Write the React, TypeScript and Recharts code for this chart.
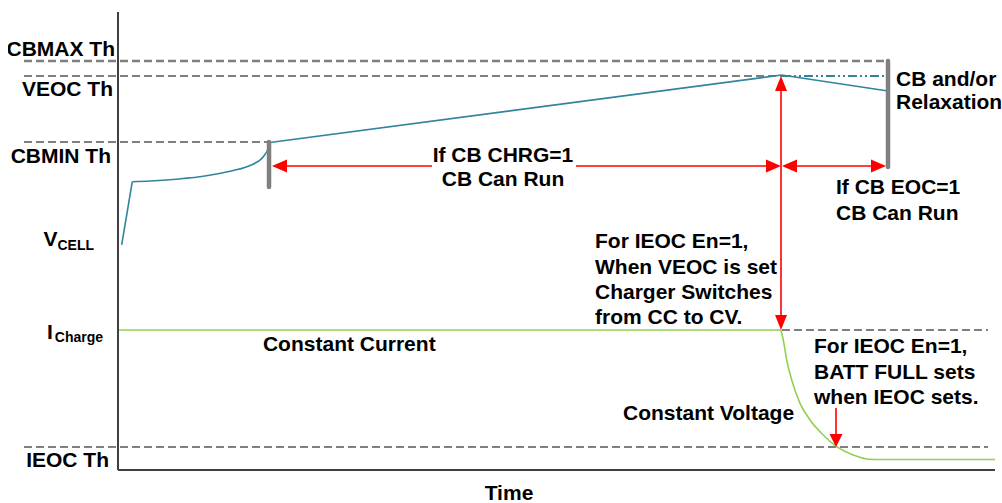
import React from 'react';
import { ComposedChart, Line, XAxis, YAxis, ReferenceLine, ReferenceDot, Label } from 'recharts';

// ---- levels (arbitrary units, 0..100 on the vertical axis) ----
const CBMAX_TH = 89.3;
const VEOC_TH = 86.03;
const CBMIN_TH = 71.62;
const VCELL_START = 49.13;
const I_CHARGE = 30.57;
const IEOC_TH = 5.02;
const CB_ARROW_LEVEL = 66.38;
const CBMIN_BAR_BOTTOM = 61.79;
const CB_END_BAR_BOTTOM = 66.16;
const FULL_ARROW_TOP = 13.54;

// ---- time marks (0..100 on the horizontal axis) ----
const T_LEFT_EDGE = -10.72;
const T_CBMIN = 17.22;
const T_CHRG_TIP = 17.56;
const T_CHRG_GAP_L = 35.8;
const T_CHRG_GAP_R = 52.22;
const T_VEOC = 75.6;
const T_VEOC_R = 75.71;
const T_CB_END = 87.8;
const T_EOC_TIP = 87.57;
const T_IEOC_HIT = 81.87;
const T_RIGHT_END = 99.2;

const yTickValues = [CBMAX_TH, VEOC_TH, CBMIN_TH, VCELL_START, I_CHARGE, IEOC_TH];
const yTickMain = ['CBMAX Th', 'VEOC Th', 'CBMIN Th', 'V', 'I', 'IEOC Th'];
const yTickSub = ['', '', '', 'CELL', 'Charge', ''];

// ---- series ----
const vcellRise = [
  { t: 0.42, v: 49.13 },
  { t: 1.63, v: 62.95 },
];
const vcellKnee = [
  { t: 1.63, v: 62.95 },
  { t: 3.65, v: 63.1 },
  { t: 5.55, v: 63.32 },
  { t: 7.41, v: 63.65 },
  { t: 9.35, v: 64.04 },
  { t: 11.25, v: 64.63 },
  { t: 13.15, v: 65.39 },
  { t: 15.05, v: 66.48 },
  { t: 16.57, v: 68.41 },
  { t: 17.14, v: 70.24 },
  { t: 17.33, v: 71.51 },
];
const vcellRamp = [
  { t: 17.33, v: 71.51 },
  { t: 75.66, v: 86.24 },
  { t: 87.8, v: 82.75 },
];
const chargeCC = [
  { t: 0, v: 30.57 },
  { t: 75.6, v: 30.57 },
];
const chargeCV = [
  { t: 75.6, v: 30.57 },
  { t: 75.86, v: 28.38 },
  { t: 76.25, v: 24.02 },
  { t: 76.82, v: 19.65 },
  { t: 77.77, v: 14.56 },
  { t: 78.91, v: 10.92 },
  { t: 80.42, v: 7.64 },
  { t: 81.95, v: 5.09 },
  { t: 83.84, v: 3.28 },
  { t: 85.75, v: 2.34 },
  { t: 86.89, v: 2.29 },
  { t: 100, v: 2.29 },
];

const annotations = [
  { id: 'chrg', t: 43.9, v: 68.78, lines: ['If CB CHRG=1', 'CB Can Run'] },
  { id: 'relax', t: 88.71, v: 85.37, lines: ['CB and/or', 'Relaxation'] },
  { id: 'eoc', t: 81.87, v: 61.79, lines: ['If CB EOC=1', 'CB Can Run'] },
  { id: 'cccv', t: 54.39, v: 50.0, lines: ['For IEOC En=1,', 'When VEOC is set', 'Charger Switches', 'from CC to CV.'] },
  { id: 'cc', t: 16.53, v: 27.51, lines: ['Constant Current'] },
  { id: 'full', t: 79.36, v: 27.07, lines: ['For IEOC En=1,', 'BATT FULL sets', 'when IEOC sets.'] },
  { id: 'cv', t: 57.58, v: 12.45, lines: ['Constant Voltage'] },
];

// ---- styles ----
const FONT = "'Liberation Sans', Arial, Helvetica, sans-serif";
const TEAL = '#31849B';
const GREEN = '#92D050';
const GRAY = '#7F7F7F';
const RED = '#FF0000';
const AXIS = '#404040';

function makeArrow(opts: { start?: boolean; end?: boolean; len: number; wid: number }) {
  return (p: any) => {
    const { x1, y1, x2, y2 } = p;
    const dx = x2 - x1;
    const dy = y2 - y1;
    const L = Math.hypot(dx, dy) || 1;
    const ux = dx / L;
    const uy = dy / L;
    const nx = -uy;
    const ny = ux;
    let sx = x1, sy = y1, ex = x2, ey = y2;
    const head = (tx: number, ty: number, dxu: number, dyu: number) => {
      const bx = tx - dxu * opts.len;
      const by = ty - dyu * opts.len;
      const w = opts.wid / 2;
      return `${tx},${ty} ${bx + nx * w},${by + ny * w} ${bx - nx * w},${by - ny * w}`;
    };
    const heads: string[] = [];
    if (opts.end) {
      ex = x2 - ux * (opts.len - 1);
      ey = y2 - uy * (opts.len - 1);
      heads.push(head(x2, y2, ux, uy));
    }
    if (opts.start) {
      sx = x1 + ux * (opts.len - 1);
      sy = y1 + uy * (opts.len - 1);
      heads.push(head(x1, y1, -ux, -uy));
    }
    return (
      <g>
        <line x1={sx} y1={sy} x2={ex} y2={ey} stroke={RED} strokeWidth={1.6} />
        {heads.map((pts, i) => (
          <polygon key={i} points={pts} fill={RED} />
        ))}
      </g>
    );
  };
}

const barShape = (p: any) => (
  <line x1={p.x1} y1={p.y1} x2={p.x2} y2={p.y2} stroke={GRAY} strokeWidth={4.5} strokeLinecap="round" />
);

const tickDy = [-12.5, 13, 13.5, -6.5, 2, 13];
const tickDx = [0, -2, -4, -21, -12, -6];

function YTick(props: any) {
  const { x, y, payload } = props;
  const i = yTickValues.findIndex((val) => Math.abs(val - payload.value) < 1e-6);
  if (i < 0) return null;
  const sub = yTickSub[i];
  return (
    <text
      x={x + tickDx[i]}
      y={y + tickDy[i]}
      dy="0.35em"
      textAnchor="end"
      fontFamily={FONT}
      fontWeight={700}
      fontSize={21}
      fill="#000"
    >
      <tspan>{yTickMain[i]}</tspan>
      {sub ? (
        <tspan fontSize={14} dx={i === 4 ? 2 : 0} dy={i === 4 ? 3 : 4}>
          {sub}
        </tspan>
      ) : null}
    </text>
  );
}

const lineGap: Record<string, number> = { chrg: 23.5, relax: 23, eoc: 26 };

function AnnotationText({ cx, cy, item }: { cx: number; cy: number; item: (typeof annotations)[number] }) {
  if (cx == null || cy == null) return null;
  const anchor = item.id === 'chrg' ? 'middle' : 'start';
  const gap = lineGap[item.id] ?? 25.3;
  return (
    <g>
      {item.lines.map((s, i) => (
        <text
          key={i}
          x={cx}
          y={cy + i * gap}
          dy="0.35em"
          textAnchor={anchor}
          fontFamily={FONT}
          fontWeight={700}
          fontSize={21}
          fill="#000"
        >
          {s}
        </text>
      ))}
    </g>
  );
}

const TimeLabel = (p: any) => {
  const vb = p.viewBox || { x: 110, y: 462 };
  return (
    <text
      x={vb.x + 391}
      y={vb.y + 23}
      dy="0.35em"
      textAnchor="middle"
      fontFamily={FONT}
      fontWeight={700}
      fontSize={21}
      fill="#000"
    >
      Time
    </text>
  );
};

export default function App() {
  return (
    <div style={{ position: 'absolute', left: 8, top: 8, width: 994, height: 495 }}>
      <ComposedChart width={994} height={495} margin={{ top: 4, right: 7, bottom: 3, left: 0 }} style={{ overflow: 'visible' }}>
        <XAxis
          type="number"
          dataKey="t"
          domain={[0, 100]}
          tick={false}
          tickLine={false}
          axisLine={{ stroke: AXIS, strokeWidth: 2 }}
          height={30}
        >
          <Label content={TimeLabel} />
        </XAxis>
        <YAxis
          type="number"
          dataKey="v"
          domain={[0, 100]}
          ticks={yTickValues}
          interval={0}
          tick={YTick}
          tickLine={false}
          tickSize={0}
          tickMargin={3}
          axisLine={{ stroke: AXIS, strokeWidth: 2 }}
          width={110}
        />

        {/* dashed thresholds */}
        <ReferenceLine segment={[{ x: T_LEFT_EDGE, y: CBMAX_TH }, { x: T_CB_END, y: CBMAX_TH }]} ifOverflow="visible" stroke={GRAY} strokeWidth={2.5} strokeDasharray="8 4" />
        <ReferenceLine segment={[{ x: T_LEFT_EDGE, y: VEOC_TH }, { x: T_VEOC_R, y: VEOC_TH }]} ifOverflow="visible" stroke={GRAY} strokeWidth={2.2} strokeDasharray="8 4" />
        <ReferenceLine segment={[{ x: T_LEFT_EDGE, y: CBMIN_TH }, { x: T_CBMIN, y: CBMIN_TH }]} ifOverflow="visible" stroke={GRAY} strokeWidth={2.2} strokeDasharray="8 4" />
        <ReferenceLine segment={[{ x: T_VEOC_R, y: I_CHARGE }, { x: T_RIGHT_END, y: I_CHARGE }]} ifOverflow="visible" stroke={GRAY} strokeWidth={2.2} strokeDasharray="8 4" />
        <ReferenceLine segment={[{ x: T_LEFT_EDGE, y: IEOC_TH }, { x: T_RIGHT_END, y: IEOC_TH }]} ifOverflow="visible" stroke={GRAY} strokeWidth={2.2} strokeDasharray="8 4" />
        <ReferenceLine segment={[{ x: T_VEOC_R, y: VEOC_TH }, { x: T_CB_END, y: VEOC_TH }]} ifOverflow="visible" stroke={TEAL} strokeWidth={2} strokeDasharray="9 3 2 3 2 3" />

        {/* cell voltage */}
        <Line data={vcellRise} dataKey="v" type="linear" stroke={TEAL} strokeWidth={1.6} dot={false} activeDot={false} isAnimationActive={false} />
        <Line data={vcellKnee} dataKey="v" type="monotone" stroke={TEAL} strokeWidth={1.6} dot={false} activeDot={false} isAnimationActive={false} />
        <Line data={vcellRamp} dataKey="v" type="linear" stroke={TEAL} strokeWidth={1.6} dot={false} activeDot={false} isAnimationActive={false} />

        {/* charge current */}
        <Line data={chargeCC} dataKey="v" type="linear" stroke={GREEN} strokeWidth={1.6} dot={false} activeDot={false} isAnimationActive={false} />
        <Line data={chargeCV} dataKey="v" type="monotone" stroke={GREEN} strokeWidth={1.6} dot={false} activeDot={false} isAnimationActive={false} />

        {/* CB bars */}
        <ReferenceLine segment={[{ x: T_CBMIN, y: CBMIN_TH }, { x: T_CBMIN, y: CBMIN_BAR_BOTTOM }]} ifOverflow="visible" shape={barShape} />
        <ReferenceLine segment={[{ x: T_CB_END, y: CBMAX_TH }, { x: T_CB_END, y: CB_END_BAR_BOTTOM }]} ifOverflow="visible" shape={barShape} />

        {/* arrows */}
        <ReferenceLine segment={[{ x: T_CHRG_GAP_L, y: CB_ARROW_LEVEL }, { x: T_CHRG_TIP, y: CB_ARROW_LEVEL }]} ifOverflow="visible" shape={makeArrow({ end: true, len: 15, wid: 13 })} />
        <ReferenceLine segment={[{ x: T_CHRG_GAP_R, y: CB_ARROW_LEVEL }, { x: T_VEOC, y: CB_ARROW_LEVEL }]} ifOverflow="visible" shape={makeArrow({ end: true, len: 15, wid: 13 })} />
        <ReferenceLine segment={[{ x: T_VEOC_R, y: CB_ARROW_LEVEL }, { x: T_EOC_TIP, y: CB_ARROW_LEVEL }]} ifOverflow="visible" shape={makeArrow({ start: true, end: true, len: 15, wid: 13 })} />
        <ReferenceLine segment={[{ x: T_VEOC, y: VEOC_TH }, { x: T_VEOC, y: I_CHARGE }]} ifOverflow="visible" shape={makeArrow({ start: true, end: true, len: 15, wid: 12 })} />
        <ReferenceLine segment={[{ x: T_IEOC_HIT, y: FULL_ARROW_TOP }, { x: T_IEOC_HIT, y: IEOC_TH }]} ifOverflow="visible" shape={makeArrow({ end: true, len: 13, wid: 13 })} />

        {/* annotations */}
        {annotations.map((a) => (
          <ReferenceDot
            key={a.id}
            x={a.t}
            y={a.v}
            r={0}
            ifOverflow="visible"
            shape={(p: any) => <AnnotationText cx={p.cx} cy={p.cy} item={a} />}
          />
        ))}
      </ComposedChart>
    </div>
  );
}
